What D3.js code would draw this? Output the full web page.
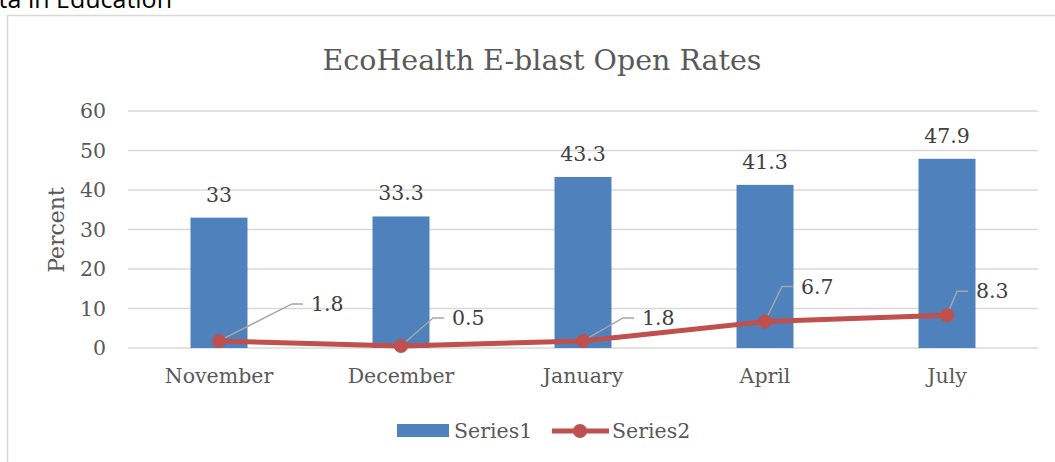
<!DOCTYPE html>
<html>
<head>
<meta charset="utf-8">
<script src="https://cdn.jsdelivr.net/npm/d3@7"></script>
<style>
  body { margin: 0; background: #fff; }
  svg { display: block; }
</style>
</head>
<body>
<div id="chart"></div>
<script>
const months = ['November', 'December', 'January', 'April', 'July'];
const series1 = [33, 33.3, 43.3, 41.3, 47.9];
const series2 = [1.8, 0.5, 1.8, 6.7, 8.3];
const yTicks = [0, 10, 20, 30, 40, 50, 60];
// hand-placed leader line elbows for the Series2 labels
const labelOffsets = [[73, -37], [32, -28], [40, -23], [17, -35], [10, -24]];

const W = 1055, H = 462;
const margin = { top: 111, right: 17, bottom: 114, left: 128 },
      width = W - margin.left - margin.right,
      height = H - margin.top - margin.bottom;

const serif = "'DejaVu Serif', serif";
const textGray = '#595959';
const fs = 20.5;

let root = d3.select('#chart')
  .append('svg')
    .attr('width', W)
    .attr('height', H);

// clipped caption from the page above
root.append('text')
  .attr('x', 172).attr('y', 8)
  .attr('text-anchor', 'end')
  .attr('font-family', "'Open Sans', sans-serif")
  .attr('font-size', 25)
  .attr('fill', '#000')
  .text('ta in Education');

// chart frame
root.append('path')
  .attr('d', 'M7.5,' + H + 'V15.5H' + W)
  .attr('fill', 'none')
  .attr('stroke', '#d9d9d9')
  .attr('stroke-width', 1.5);

root.append('text')
  .attr('x', 542).attr('y', 70)
  .attr('text-anchor', 'middle')
  .attr('font-family', serif)
  .attr('font-size', 28.5)
  .attr('fill', textGray)
  .text('EcoHealth E-blast Open Rates');

let svg = root.append('g')
  .attr('transform', 'translate(' + margin.left + ',' + margin.top + ')');

let x = d3.scaleBand()
  .domain(months)
  .range([0, width]);

let y = d3.scaleLinear()
  .domain([0, 60])
  .range([height, 0]);

// gridlines
svg.append('g')
  .selectAll('line')
  .data(yTicks)
  .join('line')
    .attr('x1', 0).attr('x2', width)
    .attr('y1', d => y(d)).attr('y2', d => y(d))
    .attr('stroke', '#d9d9d9')
    .attr('stroke-width', 1.5);

let yAxis = svg.append('g')
  .attr('transform', 'translate(-10,0)')
  .call(d3.axisLeft(y).tickValues(yTicks).tickSize(0).tickPadding(12));
yAxis.select('.domain').remove();
yAxis.selectAll('text')
  .attr('font-family', serif)
  .attr('font-size', fs)
  .attr('fill', textGray);

let xAxis = svg.append('g')
  .attr('transform', 'translate(0,' + height + ')')
  .call(d3.axisBottom(x).tickSize(0).tickPadding(20));
xAxis.select('.domain').remove();
xAxis.selectAll('text')
  .attr('font-family', serif)
  .attr('font-size', fs)
  .attr('fill', textGray);

root.append('text')
  .attr('transform', 'translate(64,230) rotate(-90)')
  .attr('text-anchor', 'middle')
  .attr('font-family', serif)
  .attr('font-size', 22)
  .attr('fill', textGray)
  .text('Percent');

const barW = x.bandwidth() * 0.313;
const cx = m => x(m) + x.bandwidth() / 2;

svg.selectAll('.bar')
  .data(months)
  .join('rect')
    .attr('class', 'bar')
    .attr('x', m => cx(m) - barW / 2)
    .attr('width', barW)
    .attr('y', (m, i) => y(series1[i]))
    .attr('height', (m, i) => height - y(series1[i]))
    .attr('fill', '#4f81bd');

svg.selectAll('.barlabel')
  .data(months)
  .join('text')
    .attr('class', 'barlabel')
    .attr('x', m => cx(m))
    .attr('y', (m, i) => y(series1[i]) - 16)
    .attr('text-anchor', 'middle')
    .attr('font-family', serif)
    .attr('font-size', fs)
    .attr('fill', '#404040')
    .text((m, i) => series1[i]);

// leader lines for series2 labels
svg.selectAll('.leader')
  .data(months)
  .join('path')
    .attr('class', 'leader')
    .attr('d', (m, i) => {
      let px = cx(m), py = y(series2[i]);
      let ex = px + labelOffsets[i][0], ey = py + labelOffsets[i][1];
      return 'M' + px + ',' + py + 'L' + ex + ',' + ey + 'H' + (ex + 11);
    })
    .attr('fill', 'none')
    .attr('stroke', '#a6a6a6')
    .attr('stroke-width', 1.5);

svg.append('path')
  .datum(series2)
  .attr('fill', 'none')
  .attr('stroke', '#c0504d')
  .attr('stroke-width', 5)
  .attr('d', d3.line()
    .x((d, i) => cx(months[i]))
    .y(d => y(d)));

svg.selectAll('.dot')
  .data(series2)
  .join('circle')
    .attr('class', 'dot')
    .attr('cx', (d, i) => cx(months[i]))
    .attr('cy', d => y(d))
    .attr('r', 7)
    .attr('fill', '#c0504d');

svg.selectAll('.linelabel')
  .data(series2)
  .join('text')
    .attr('class', 'linelabel')
    .attr('x', (d, i) => cx(months[i]) + labelOffsets[i][0] + 19)
    .attr('y', (d, i) => y(d) + labelOffsets[i][1])
    .attr('dy', '0.35em')
    .attr('font-family', serif)
    .attr('font-size', fs)
    .attr('fill', '#404040')
    .text(d => d);

// legend
let legend = root.append('g');
legend.append('rect')
  .attr('x', 397).attr('y', 424)
  .attr('width', 52).attr('height', 13)
  .attr('fill', '#4f81bd');
legend.append('text')
  .attr('x', 454).attr('y', 431).attr('dy', '0.35em')
  .attr('font-family', serif).attr('font-size', fs)
  .attr('fill', textGray)
  .text('Series1');
legend.append('line')
  .attr('x1', 552).attr('x2', 609)
  .attr('y1', 431).attr('y2', 431)
  .attr('stroke', '#c0504d').attr('stroke-width', 5);
legend.append('circle')
  .attr('cx', 580).attr('cy', 431).attr('r', 7)
  .attr('fill', '#c0504d');
legend.append('text')
  .attr('x', 612).attr('y', 431).attr('dy', '0.35em')
  .attr('font-family', serif).attr('font-size', fs)
  .attr('fill', textGray)
  .text('Series2');
</script>
</body>
</html>
